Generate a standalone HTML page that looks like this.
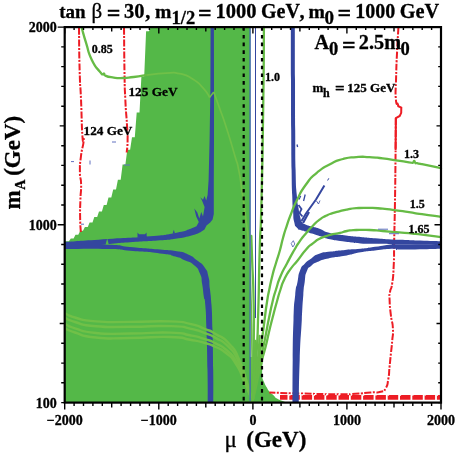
<!DOCTYPE html>
<html><head><meta charset="utf-8"><title>plot</title>
<style>html,body{margin:0;padding:0;background:#fff;}body{width:456px;height:457px;overflow:hidden;font-family:"Liberation Serif",serif;}svg{display:block;will-change:transform;}</style>
</head><body>
<svg width="456" height="457" viewBox="0 0 456 457">
<rect x="0" y="0" width="456" height="457" fill="#fff"/>
<path d="M64.7,402.6 L64.7,241.5 L64.7,241.3 L68.9,241.3 L70.8,238.6 L73.6,238.6 L75.5,234.8 L78.3,234.8 L80.2,230.8 L83.0,230.8 L84.9,226.9 L87.8,226.9 L89.6,222.5 L92.5,222.5 L94.3,217.0 L97.2,217.0 L99.0,211.6 L101.9,211.6 L103.8,205.1 L106.6,205.1 L108.5,197.5 L111.3,197.5 L113.2,189.6 L116.0,189.6 L117.9,179.7 L120.7,179.7 L122.6,164.6 L125.4,164.6 L127.3,149.8 L130.1,149.8 L132.0,137.3 L134.8,137.3 L136.7,112.5 L139.5,112.5 L141.4,76.6 L144.2,76.6 L146.1,31.3 L148.9,31.3 L150.8,27.1 L153.6,27.1 L250,27.1 L250,402.6 Z" fill="#54B848"/>
<path d="M250,357 L263,357 L262.3,366 L262,377  C262.7,378.7 262.5,378.7 264.0,382.0 C265.5,385.3 264.5,383.6 266.5,387.0 C268.5,390.4 267.7,389.6 270.0,392.3 C272.3,395.0 271.2,393.1 273.5,395.2 C275.8,397.3 273.8,396.5 277.0,398.5 C280.2,400.5 279.5,399.8 283.2,401.2 C286.9,402.6 286.4,402.1 288.0,402.6 L250,402.6 Z" fill="#54B848"/>
<path d="M79.0,27.5 C79.2,42.5 79.0,48.8 79.7,72.6 C80.4,96.4 80.1,77.9 81.0,99.0 C81.9,120.1 81.5,122.2 82.4,136.0 C83.3,149.8 84.2,133.8 83.7,140.5 C83.2,147.2 82.3,145.5 81.0,156.0 C79.7,166.5 79.9,162.7 79.9,172.0 C79.9,181.3 80.9,174.7 81.1,184.0 C81.3,193.3 80.7,189.3 80.4,200.0 C80.1,210.7 80.0,205.2 80.1,216.0 C80.2,226.8 80.6,227.0 80.8,232.5" fill="none" stroke="#ED1C24" stroke-width="2" stroke-dasharray="7 1.5 2 1.5"/>
<path d="M124.0,27.5 C124.2,42.5 124.1,48.8 124.5,72.6 C124.9,96.4 124.5,81.5 125.3,99.0 C126.1,116.5 126.2,111.3 127.0,125.0 C127.8,138.7 127.7,130.8 127.6,140.0 C127.5,149.2 127.0,148.3 126.7,152.5" fill="none" stroke="#ED1C24" stroke-width="2" stroke-dasharray="7 1.5 2 1.5"/>
<path d="M398.4,27.6 C398.0,35.5 397.9,34.6 397.1,51.3 C396.3,68.0 396.5,61.9 396.1,77.6 C395.7,93.3 395.2,89.7 395.8,98.5 C396.4,107.3 397.1,102.2 397.8,104.0" fill="none" stroke="#ED1C24" stroke-width="2" stroke-dasharray="7 1.5 2 1.5"/>
<path d="M395.8,118.0 C395.7,132.0 395.8,132.7 395.5,160.0 C395.2,187.3 395.4,173.3 395.0,200.0 C394.6,226.7 394.6,218.1 394.2,240.0 C393.8,261.9 394.4,251.4 393.7,265.8 C393.0,280.2 393.4,274.6 392.2,283.3 C391.0,292.0 390.9,286.4 390.0,292.0 C389.1,297.6 389.3,292.2 389.6,300.0 C389.9,307.8 389.8,306.0 390.9,315.4 C392.0,324.8 392.5,319.7 392.9,328.2 C393.3,336.7 392.9,332.4 392.2,340.9 C391.5,349.4 391.8,345.1 390.9,353.6 C390.0,362.1 390.5,357.8 389.6,366.3 C388.7,374.8 389.6,371.8 388.3,379.0 C387.0,386.2 388.3,383.7 385.8,388.0 C383.3,392.3 385.8,390.3 380.7,391.8 C375.6,393.3 379.0,391.8 370.5,392.5 C362.0,393.2 365.5,393.2 355.3,393.8 C345.1,394.4 358.4,394.4 340.0,394.3 C321.6,394.2 323.6,394.1 300.0,393.5 C276.4,392.9 279.5,392.8 269.3,392.5" fill="none" stroke="#ED1C24" stroke-width="2" stroke-dasharray="7 1.5 2 1.5"/>
<path d="M397.8,104 L398.3,106.2 L401.3,107.6 L401.2,112.8 L399.7,116 L395.9,118 L395.6,150" fill="none" stroke="#ED1C24" stroke-width="2"/>
<path d="M280,397.4 L440,397.4" fill="none" stroke="#ED1C24" stroke-width="4.6" stroke-dasharray="10.5 1.8" stroke-dashoffset="3"/>
<path d="M286,394.9 L440,394.9" fill="none" stroke="#fff" stroke-width="1.6" stroke-dasharray="1.2 11.1" stroke-dashoffset="-3.2"/>
<path d="M64.5,242  C79.0,241.0 79.5,240.9 108.0,239.0 C136.5,237.1 127.5,238.3 150.0,236.3 C172.5,234.3 161.8,235.5 175.4,233.0 C189.0,230.5 185.6,230.2 190.7,228.8 L196.5,226.3 L198.8,222 L196.2,216.5 L194.3,208.5 L197.3,212.5 L199.3,218.5 L201.3,212 L203,216.5 L204.6,207 L202,200.5 L200.3,197.3 L203,199.8 L204.6,196 L206.2,200.5 L207.6,195 L208.6,180 L209.6,140 L210.4,90 L210.6,27 L213.9,27 L214,90 L214,140 L213.8,180 L213.8,214 L212.6,219.5 L210.2,222.5 L206.5,225.5 L204.5,229.5 L200,232.6  C196.9,233.6 198.9,233.7 190.7,235.7 C182.5,237.7 185.6,237.2 175.4,238.7 C165.2,240.2 175.1,239.1 160.0,240.3 C144.9,241.5 147.3,241.0 130.0,242.3 C112.7,243.6 129.8,242.0 108.0,244.2 C86.2,246.4 79.0,247.4 64.5,249.0 Z" fill="#34469F"/>
<path d="M64.5,245.0 C79.0,244.9 86.2,244.1 108.0,244.8 C129.8,245.5 112.7,245.4 130.0,247.0 C147.3,248.6 144.9,248.2 160.0,249.6 C175.1,251.0 166.2,249.6 175.4,251.1 C184.6,252.6 180.4,251.1 187.6,254.2 C194.8,257.3 191.3,255.9 196.9,260.3 C202.5,264.7 200.7,261.9 204.5,267.3 C208.3,272.7 206.6,269.3 208.4,276.5 C210.2,283.7 208.9,279.3 209.9,288.8 C210.9,298.3 210.6,291.3 211.5,305.0 C212.4,318.7 211.9,308.3 212.5,330.0 C213.1,351.7 212.9,345.8 213.2,370.0 C213.5,394.2 213.3,391.7 213.4,402.6 L207.8,402.6 C207.7,391.7 207.9,394.2 207.5,370.0 C207.1,345.8 207.2,351.7 206.5,330.0 C205.8,308.3 206.2,316.2 205.3,305.0 C204.4,293.8 204.8,303.3 203.8,296.4 C202.8,289.5 203.5,291.9 202.2,284.2 C200.9,276.5 202.7,279.8 199.9,273.4 C197.1,267.0 198.9,269.4 193.8,265.0 C188.7,260.6 190.7,263.1 184.6,260.3 C178.5,257.5 183.6,258.8 175.4,256.5 C167.2,254.2 175.1,255.3 160.0,253.4 C144.9,251.5 147.3,252.3 130.0,250.8 C112.7,249.3 129.8,249.6 108.0,249.0 C86.2,248.4 79.0,249.0 64.5,249.0 Z" fill="#34469F"/>
<path d="M105.6,244.6 L107.2,238.6 L108.8,244.4 Z" fill="#54B848"/>
<path d="M137.5,232.6 L139,234.3 L145,234.3 L146.5,232.4 L146.8,237 L137.5,237.5 Z" fill="#34469F"/>
<path d="M172.6,233.8 L173.8,229.8 L175,233.4 Z" fill="#34469F"/>
<path d="M294.8,27.0 C294.9,44.7 294.9,45.7 295.0,80.0 C295.1,114.3 295.0,100.0 295.2,130.0 C295.4,160.0 295.1,148.3 295.6,170.0 C296.1,191.7 295.8,182.3 296.8,195.0 C297.8,207.7 297.4,200.7 298.5,208.0 C299.6,215.3 299.0,212.3 300.2,217.0 C301.4,221.7 300.2,219.5 302.0,222.0 C303.8,224.5 302.2,223.0 305.5,224.5 C308.8,226.0 307.3,225.2 312.0,226.6 C316.7,228.0 313.5,226.7 319.5,228.8 C325.5,230.9 321.2,230.8 330.0,233.0 C338.8,235.2 335.6,234.2 345.8,235.5 C356.0,236.8 351.0,236.1 360.7,237.0 C370.4,237.9 364.8,237.5 375.0,238.3 C385.2,239.1 381.4,239.0 391.4,239.5 C401.4,240.0 395.5,239.6 405.0,239.9 C414.5,240.2 408.0,240.0 420.0,240.5 C432.0,241.0 434.0,241.0 441.0,241.3 L441.0,245.0 C427.2,244.8 416.1,244.6 399.6,244.3 C383.1,244.0 399.6,244.4 391.4,244.2 C383.2,244.0 385.2,244.1 375.0,243.8 C364.8,243.5 370.4,244.1 360.7,243.4 C351.0,242.7 356.0,243.2 345.8,241.8 C335.6,240.4 338.1,241.0 330.0,239.3 C321.9,237.6 327.4,238.5 321.4,236.6 C315.4,234.7 317.3,235.3 312.0,233.6 C306.7,231.9 309.3,232.5 305.6,231.4 C301.9,230.3 303.9,231.4 301.0,230.2 C298.1,229.0 299.3,230.5 297.0,227.8 C294.7,225.1 295.5,227.9 294.2,222.0 C292.9,216.1 293.7,219.0 293.0,210.0 C292.3,201.0 292.7,208.3 292.2,195.0 C291.7,181.7 291.9,191.7 291.6,170.0 C291.3,148.3 291.4,160.0 291.2,130.0 C291.0,100.0 291.1,114.3 291.0,80.0 C290.9,45.7 290.9,44.7 290.8,27.0 Z" fill="#34469F"/>
<path d="M441.0,244.5 C427.2,244.4 416.1,244.3 399.6,244.3 C383.1,244.3 399.6,243.6 391.4,244.4 C383.2,245.2 385.2,245.3 375.0,246.8 C364.8,248.3 370.7,247.8 360.7,248.8 C350.7,249.8 354.9,249.0 345.0,249.9 C335.1,250.8 339.6,250.3 331.0,251.6 C322.4,252.9 325.8,251.5 319.2,253.8 C312.6,256.1 316.1,255.1 311.3,258.4 C306.5,261.7 308.4,259.7 304.7,263.7 C301.0,267.7 302.5,264.2 300.1,270.3 C297.7,276.4 299.1,273.9 297.5,282.1 C295.9,290.3 296.5,282.4 295.2,295.0 C293.9,307.6 294.3,298.3 293.5,320.0 C292.7,341.7 293.0,332.5 292.7,360.0 C292.4,387.5 292.6,388.4 292.5,402.6 L298.8,402.6 C299.1,388.4 298.7,387.5 299.7,360.0 C300.7,332.5 300.6,341.7 301.8,320.0 C303.0,298.3 302.3,307.6 303.3,295.0 C304.3,282.4 303.6,289.9 304.7,282.1 C305.8,274.3 304.5,277.1 306.7,271.6 C308.9,266.1 307.6,269.0 311.3,265.7 C315.0,262.4 312.2,264.1 317.9,261.7 C323.6,259.3 319.4,260.4 328.4,258.4 C337.4,256.4 334.2,257.8 345.0,255.8 C355.8,253.8 350.7,254.1 360.7,252.3 C370.7,250.5 364.8,251.7 375.0,250.5 C385.2,249.3 383.1,249.2 391.4,248.8 C399.7,248.4 392.1,249.2 400.0,249.4 C407.9,249.6 401.3,249.7 415.0,249.5 C428.7,249.3 432.3,249.0 441.0,248.8 Z" fill="#34469F"/>
<path d="M301.5,221 L306,213.5 L311,206.5 L316,199.5 L320.5,192 L324.4,185.5" fill="none" stroke="#34469F" stroke-width="2.0"/>
<path d="M303,223 L309,212" fill="none" stroke="#34469F" stroke-width="2.2"/>
<path d="M298.5,205 L301.5,209 L299.5,213 L302.5,216.5" fill="none" stroke="#34469F" stroke-width="1.8"/>
<path d="M303.6,201 L305.2,194.5" fill="none" stroke="#34469F" stroke-width="1.3"/>
<path d="M299,199.5 L300.7,196" fill="none" stroke="#34469F" stroke-width="1.2"/>
<path d="M316.5,201 L318.5,204 L320,200.5" fill="none" stroke="#34469F" stroke-width="0.8"/>
<path d="M327.6,180.5 L328.8,178.3" fill="none" stroke="#34469F" stroke-width="1"/>
<path d="M297,144.5 L297.6,147" fill="none" stroke="#34469F" stroke-width="1.3"/>
<path d="M291.2,243.5 L293.3,240.7 L294.8,244 L292.8,247 Z" fill="none" stroke="#34469F" stroke-width="0.7"/>
<path d="M144.0,75.3 C151.4,74.6 154.5,73.7 166.3,73.2 C178.1,72.7 170.7,71.8 179.5,73.7 C188.3,75.6 184.7,74.2 192.6,79.0 C200.5,83.8 197.5,82.1 203.2,88.2 C208.9,94.3 207.5,94.3 209.7,97.4" fill="none" stroke="#70C048" stroke-width="1.7"/>
<path d="M213.7,92.0 C215.5,96.9 214.6,94.3 219.0,106.6 C223.4,118.9 221.6,112.8 226.8,129.0 C232.0,145.2 230.7,141.6 234.7,155.3 C238.7,169.0 236.3,158.1 238.7,170.0 C241.1,181.9 239.6,174.3 242.0,191.0 C244.4,207.7 243.7,200.3 246.0,220.0 C248.3,239.7 247.3,223.3 249.0,250.0 C250.7,276.7 250.0,266.7 251.0,300.0 C252.0,333.3 251.5,316.7 252.0,350.0 C252.5,383.3 252.4,383.3 252.6,400.0" fill="none" stroke="#70C048" stroke-width="1.7"/>
<path d="M64.7,313.0 C68.1,314.5 64.6,314.7 75.0,317.5 C85.4,320.3 77.7,319.9 96.0,321.4 C114.3,322.9 105.3,321.9 130.0,321.9 C154.7,321.9 150.0,320.7 170.0,321.4 C190.0,322.1 178.3,321.4 190.0,323.9 C201.7,326.4 196.5,325.6 205.0,329.0 C213.5,332.4 207.5,329.0 215.6,334.0 C223.7,339.0 221.5,335.3 229.4,344.0 C237.3,352.7 233.4,347.0 239.3,360.0 C245.2,373.0 242.7,369.0 247.2,383.0 C251.7,397.0 250.9,395.7 252.7,402.0" fill="none" stroke="#70C048" stroke-width="2.4"/>
<path d="M64.7,317.5 C68.1,319.0 64.6,319.1 75.0,322.0 C85.4,324.9 77.7,324.7 96.0,326.2 C114.3,327.8 105.3,326.8 130.0,326.7 C154.7,326.7 150.0,325.4 170.0,326.1 C190.0,326.7 178.3,326.3 190.0,328.6 C201.7,331.0 196.5,330.1 205.0,333.2 C213.5,336.3 207.8,333.4 215.6,337.9 C223.4,342.4 220.8,338.9 228.4,346.7 C236.0,354.5 232.4,349.3 238.3,361.2 C244.3,373.1 241.4,368.8 246.2,382.4 C251.0,396.0 250.5,395.5 252.7,402.0" fill="none" stroke="#70C048" stroke-width="2.4"/>
<path d="M64.7,323.8 C68.1,325.3 64.6,325.2 75.0,328.3 C85.4,331.4 77.7,331.3 96.0,333.0 C114.3,334.7 105.3,333.6 130.0,333.5 C154.7,333.4 150.0,332.0 170.0,332.6 C190.0,333.2 178.3,333.1 190.0,335.3 C201.7,337.4 196.5,336.4 205.0,339.1 C213.5,341.8 208.3,339.6 215.6,343.4 C222.9,347.2 219.8,344.0 227.0,350.5 C234.1,357.0 230.9,352.5 236.9,362.9 C242.9,373.2 239.6,368.5 244.9,381.6 C250.2,394.6 250.1,395.2 252.7,402.0" fill="none" stroke="#70C048" stroke-width="2.4"/>
<path d="M64.7,328.0 C68.1,329.5 64.6,329.3 75.0,332.5 C85.4,335.7 77.7,335.7 96.0,337.5 C114.3,339.3 105.3,338.2 130.0,338.0 C154.7,337.8 150.0,336.4 170.0,337.0 C190.0,337.6 178.3,337.7 190.0,339.7 C201.7,341.7 196.5,340.6 205.0,343.0 C213.5,345.4 208.6,343.7 215.6,347.0 C222.6,350.3 219.2,347.3 226.0,353.0 C232.8,358.7 230.0,354.7 236.0,364.0 C242.0,373.3 238.4,368.3 244.0,381.0 C249.6,393.7 249.8,395.0 252.7,402.0" fill="none" stroke="#70C048" stroke-width="2.4"/>
<path d="M209.7,97.4 L213.7,92" fill="none" stroke="#70C048" stroke-width="1.5"/>
<path d="M81.6,27.5 C83.2,32.9 83.0,33.0 86.3,43.7 C89.6,54.4 87.2,50.3 91.6,59.5 C96.0,68.7 95.6,66.4 99.5,71.3 C103.4,76.2 101.6,73.4 103.2,74.2 C104.8,75.0 103.5,73.1 104.2,73.6 C104.9,74.1 102.6,74.3 105.4,75.6 C108.2,76.9 106.7,76.6 112.6,77.4 C118.5,78.2 116.0,78.1 123.0,78.0 C130.0,77.9 126.0,77.9 133.7,77.0 C141.4,76.1 141.9,75.8 146.0,75.2" fill="none" stroke="#66BB45" stroke-width="2.3" stroke-linejoin="round" stroke-linecap="round"/>
<path d="M441.0,168.2 C434.7,166.9 430.0,165.9 422.0,164.2 C414.0,162.5 419.2,163.6 417.0,163.2 C414.8,162.8 416.2,163.7 415.3,162.9 C414.4,162.1 415.0,161.0 414.2,160.9 C413.4,160.8 414.7,162.1 413.0,162.6 C411.3,163.1 414.7,163.1 409.0,162.3 C403.3,161.5 404.6,161.6 395.8,160.3 C387.0,159.0 391.4,159.5 382.6,158.4 C373.8,157.3 378.3,157.5 369.5,157.1 C360.7,156.7 365.1,156.5 356.3,157.1 C347.5,157.7 351.8,156.6 343.0,159.0 C334.2,161.4 338.7,159.6 330.0,164.2 C321.3,168.8 324.9,165.9 316.8,172.8 C308.7,179.7 312.4,175.7 305.8,184.8 C299.2,193.9 301.9,190.3 297.0,200.0 C292.1,209.7 294.5,205.2 291.0,214.0 C287.5,222.8 289.3,218.3 286.6,226.3 C283.9,234.3 285.2,230.1 283.0,238.0 C280.8,245.9 282.3,241.7 280.0,250.0 C277.7,258.3 278.6,254.3 276.0,263.0 C273.4,271.7 274.5,267.2 272.3,276.0 C270.1,284.8 271.1,280.8 269.3,289.5 C267.5,298.2 268.5,292.5 267.0,302.0 C265.5,311.5 266.1,308.0 264.8,318.0 C263.5,328.0 264.3,322.7 263.0,332.0 C261.7,341.3 262.5,336.0 261.0,346.0 C259.5,356.0 260.3,350.0 258.5,362.0 C256.7,374.0 257.5,368.8 255.5,382.0 C253.5,395.2 253.6,395.0 252.6,401.5" fill="none" stroke="#66BB45" stroke-width="2.3" stroke-linejoin="round" stroke-linecap="round"/>
<path d="M441.0,216.8 C434.7,215.9 432.7,215.8 422.0,214.2 C411.3,212.6 417.7,213.4 409.0,212.1 C400.3,210.8 404.6,211.4 395.8,210.3 C387.0,209.2 391.4,209.5 382.6,208.7 C373.8,207.9 378.3,208.1 369.5,207.9 C360.7,207.7 363.8,207.6 356.3,208.2 C348.8,208.8 352.4,208.6 347.0,209.6 C341.6,210.6 344.8,210.0 340.0,211.2 C335.2,212.4 337.3,211.7 332.6,213.2 C327.9,214.7 330.4,213.6 326.0,215.8 C321.6,218.0 323.9,216.4 319.5,219.7 C315.1,223.0 317.3,221.3 312.9,225.7 C308.5,230.1 310.7,227.7 306.3,232.9 C301.9,238.1 303.7,235.7 299.7,241.4 C295.7,247.1 298.5,242.7 294.3,250.0 C290.1,257.3 291.7,254.4 287.1,263.2 C282.5,272.0 284.2,267.5 280.5,276.3 C276.8,285.1 278.7,280.9 276.0,289.5 C273.3,298.1 274.8,292.5 272.5,302.0 C270.2,311.5 271.1,308.0 269.0,318.0 C266.9,328.0 268.1,322.7 266.3,332.0 C264.5,341.3 265.6,336.0 263.5,346.0 C261.4,356.0 262.4,350.0 260.0,362.0 C257.6,374.0 258.7,368.8 256.2,382.0 C253.7,395.2 253.8,395.0 252.6,401.5" fill="none" stroke="#66BB45" stroke-width="2.3" stroke-linejoin="round" stroke-linecap="round"/>
<path d="M441.0,237.1 C434.7,236.3 432.7,236.0 422.0,234.7 C411.3,233.4 417.7,234.1 409.0,233.2 C400.3,232.3 404.6,232.8 395.8,232.1 C387.0,231.4 391.4,231.7 382.6,231.0 C373.8,230.3 378.3,230.3 369.5,230.0 C360.7,229.7 363.8,229.7 356.3,230.0 C348.8,230.3 352.4,230.0 347.0,231.0 C341.6,232.0 344.8,231.8 340.0,232.9 C335.2,234.0 337.3,233.1 332.6,234.2 C327.9,235.3 330.4,234.7 326.0,236.2 C321.6,237.7 323.9,236.4 319.5,238.8 C315.1,241.2 317.3,239.9 312.9,243.4 C308.5,246.9 311.4,243.6 306.3,249.3 C301.2,255.0 302.7,254.1 297.6,260.5 C292.5,266.9 295.4,262.3 291.0,268.4 C286.6,274.5 288.0,271.9 284.5,278.9 C281.0,285.9 283.1,281.8 280.5,289.5 C277.9,297.2 279.5,292.5 276.8,302.0 C274.1,311.5 275.1,308.0 272.5,318.0 C269.9,328.0 271.2,322.7 269.0,332.0 C266.8,341.3 268.1,336.7 265.8,346.0 C263.5,355.3 264.4,350.3 262.0,360.0 C259.6,369.7 260.7,365.0 258.5,375.0 C256.3,385.0 257.3,381.2 255.3,390.0 C253.3,398.8 253.5,397.7 252.6,401.5" fill="none" stroke="#66BB45" stroke-width="2.3" stroke-linejoin="round" stroke-linecap="round"/>
<path d="M263.9,27.0 C263.7,51.3 264.1,42.3 263.3,100.0 C262.5,157.7 262.7,150.0 261.5,200.0 C260.3,250.0 260.8,213.3 259.7,250.0 C258.6,286.7 259.3,276.7 258.3,310.0 C257.3,343.3 258.1,325.0 256.8,350.0 C255.5,375.0 255.9,367.8 254.5,385.0 C253.1,402.2 253.2,396.0 252.6,401.5" fill="none" stroke="#66BB45" stroke-width="2.3" stroke-linejoin="round" stroke-linecap="round"/>
<path d="M251.3,236.0 C251.6,244.7 251.4,240.7 252.2,262.0 C253.0,283.3 253.1,274.0 253.6,300.0 C254.1,326.0 254.1,306.2 253.8,340.0 C253.5,373.8 253.0,381.0 252.6,401.5" fill="none" stroke="#66BB45" stroke-width="2.3" stroke-linejoin="round" stroke-linecap="round"/>
<path d="M255.4,341.0 C255.2,346.3 255.5,342.3 254.9,357.0 C254.3,371.7 254.4,370.2 253.6,385.0 C252.8,399.8 252.9,396.0 252.6,401.5" fill="none" stroke="#66BB45" stroke-width="2.3" stroke-linejoin="round" stroke-linecap="round"/>
<path d="M259.6,336.0 C259.1,343.0 259.7,340.7 258.2,357.0 C256.7,373.3 256.9,370.2 255.0,385.0 C253.1,399.8 253.4,396.0 252.6,401.5" fill="none" stroke="#66BB45" stroke-width="2.3" stroke-linejoin="round" stroke-linecap="round"/>
<line x1="250.1" y1="27" x2="250.1" y2="401" stroke="#4470A8" stroke-width="1.5"/>
<line x1="255.5" y1="27" x2="255.5" y2="318" stroke="#34469F" stroke-width="1"/>
<line x1="243.7" y1="28" x2="243.7" y2="402.0" stroke="#000" stroke-width="2.2" stroke-dasharray="3.6 4.1" stroke-dashoffset="0.8"/>
<line x1="262.0" y1="28" x2="262.0" y2="402.0" stroke="#000" stroke-width="2.2" stroke-dasharray="3.6 4.1" stroke-dashoffset="0.8"/>
<path d="M112,142 h4" stroke="#6070C0" stroke-width="1" fill="none"/>
<path d="M71,161.6 h3" stroke="#6070C0" stroke-width="1" fill="none"/>
<path d="M90,160.5 v4" stroke="#6070C0" stroke-width="1" fill="none"/>
<path d="M124,165 h6" stroke="#6070C0" stroke-width="1" fill="none"/>
<path d="M81,224.2 h3" stroke="#6070C0" stroke-width="1" fill="none"/>
<path d="M378,229.2 h10" stroke="#6070C0" stroke-width="1" fill="none"/>
<path d="M389,233.7 h10" stroke="#6070C0" stroke-width="1" fill="none"/>
<rect x="64.7" y="27.1" width="376.3" height="375.5" fill="none" stroke="#000" stroke-width="2.2"/>
<path d="M64.7,402.6 v7.0 M64.7,27.1 v6.5 M74.1,402.6 v3.5 M74.1,27.1 v2.8 M83.5,402.6 v3.5 M83.5,27.1 v2.8 M92.9,402.6 v3.5 M92.9,27.1 v2.8 M102.3,402.6 v3.5 M102.3,27.1 v2.8 M111.7,402.6 v5.0 M111.7,27.1 v4.5 M121.1,402.6 v3.5 M121.1,27.1 v2.8 M130.6,402.6 v3.5 M130.6,27.1 v2.8 M140.0,402.6 v3.5 M140.0,27.1 v2.8 M149.4,402.6 v3.5 M149.4,27.1 v2.8 M158.8,402.6 v7.0 M158.8,27.1 v6.5 M168.2,402.6 v3.5 M168.2,27.1 v2.8 M177.6,402.6 v3.5 M177.6,27.1 v2.8 M187.0,402.6 v3.5 M187.0,27.1 v2.8 M196.4,402.6 v3.5 M196.4,27.1 v2.8 M205.8,402.6 v5.0 M205.8,27.1 v4.5 M215.2,402.6 v3.5 M215.2,27.1 v2.8 M224.6,402.6 v3.5 M224.6,27.1 v2.8 M234.0,402.6 v3.5 M234.0,27.1 v2.8 M243.4,402.6 v3.5 M243.4,27.1 v2.8 M252.9,402.6 v7.0 M252.9,27.1 v6.5 M262.3,402.6 v3.5 M262.3,27.1 v2.8 M271.7,402.6 v3.5 M271.7,27.1 v2.8 M281.1,402.6 v3.5 M281.1,27.1 v2.8 M290.5,402.6 v3.5 M290.5,27.1 v2.8 M299.9,402.6 v5.0 M299.9,27.1 v4.5 M309.3,402.6 v3.5 M309.3,27.1 v2.8 M318.7,402.6 v3.5 M318.7,27.1 v2.8 M328.1,402.6 v3.5 M328.1,27.1 v2.8 M337.5,402.6 v3.5 M337.5,27.1 v2.8 M346.9,402.6 v7.0 M346.9,27.1 v6.5 M356.3,402.6 v3.5 M356.3,27.1 v2.8 M365.7,402.6 v3.5 M365.7,27.1 v2.8 M375.1,402.6 v3.5 M375.1,27.1 v2.8 M384.6,402.6 v3.5 M384.6,27.1 v2.8 M394.0,402.6 v5.0 M394.0,27.1 v4.5 M403.4,402.6 v3.5 M403.4,27.1 v2.8 M412.8,402.6 v3.5 M412.8,27.1 v2.8 M422.2,402.6 v3.5 M422.2,27.1 v2.8 M431.6,402.6 v3.5 M431.6,27.1 v2.8 M441.0,402.6 v7.0 M441.0,27.1 v6.5 M64.7,402.6 h-3.5 M441.0,402.6 h-2.8 M64.7,382.8 h-3.5 M441.0,382.8 h-2.8 M64.7,363.1 h-3.5 M441.0,363.1 h-2.8 M64.7,343.3 h-3.5 M441.0,343.3 h-2.8 M64.7,323.5 h-5.0 M441.0,323.5 h-4.5 M64.7,303.8 h-3.5 M441.0,303.8 h-2.8 M64.7,284.0 h-3.5 M441.0,284.0 h-2.8 M64.7,264.3 h-3.5 M441.0,264.3 h-2.8 M64.7,244.5 h-3.5 M441.0,244.5 h-2.8 M64.7,224.7 h-7.0 M441.0,224.7 h-6.5 M64.7,205.0 h-3.5 M441.0,205.0 h-2.8 M64.7,185.2 h-3.5 M441.0,185.2 h-2.8 M64.7,165.4 h-3.5 M441.0,165.4 h-2.8 M64.7,145.7 h-3.5 M441.0,145.7 h-2.8 M64.7,125.9 h-5.0 M441.0,125.9 h-4.5 M64.7,106.2 h-3.5 M441.0,106.2 h-2.8 M64.7,86.4 h-3.5 M441.0,86.4 h-2.8 M64.7,66.6 h-3.5 M441.0,66.6 h-2.8 M64.7,46.9 h-3.5 M441.0,46.9 h-2.8 M64.7,27.1 h-7.0 M441.0,27.1 h-6.5" stroke="#000" stroke-width="1.4" fill="none"/>
<g font-family="'Liberation Serif', serif" font-weight="bold" fill="#000" stroke="#000" stroke-width="0.3">
<text x="59.3" y="17.8" font-size="19" text-anchor="start" >tan</text>
<text x="91.4" y="17.8" font-size="21" text-anchor="start" font-weight="normal">&#946;</text>
<text x="106.7" y="20.5" font-size="24" text-anchor="start" >=</text>
<text x="124.0" y="17.8" font-size="20.5" text-anchor="start" >30</text>
<text x="145.2" y="17.8" font-size="20.5" text-anchor="start" >,</text>
<text x="155.0" y="17.8" font-size="19.7" text-anchor="start" >m</text>
<text x="171.5" y="23.8" font-size="18.5" text-anchor="start" >1/2</text>
<text x="198.1" y="20.5" font-size="24" text-anchor="start" >=</text>
<text x="215.6" y="17.8" font-size="20.5" text-anchor="start" >1000</text>
<text x="261.0" y="17.8" font-size="20" text-anchor="start" >GeV</text>
<text x="299.6" y="17.8" font-size="20.5" text-anchor="start" >,</text>
<text x="308.4" y="17.8" font-size="19.7" text-anchor="start" >m</text>
<text x="324.6" y="23.8" font-size="19" text-anchor="start" >0</text>
<text x="337.4" y="20.5" font-size="24" text-anchor="start" >=</text>
<text x="355.2" y="17.8" font-size="20" text-anchor="start" >1000</text>
<text x="399.7" y="17.8" font-size="20.3" text-anchor="start" >GeV</text>
<text x="314.6" y="49.2" font-size="20.3" text-anchor="start" >A</text>
<text x="328.9" y="55.0" font-size="18.5" text-anchor="start" >0</text>
<text x="342.0" y="52.6" font-size="24" text-anchor="start" >=</text>
<text x="358.8" y="49.2" font-size="20.3" text-anchor="start" >2.5m</text>
<text x="400.6" y="55.0" font-size="18.5" text-anchor="start" >0</text>
<text x="312.4" y="91.9" font-size="13" text-anchor="start" >m</text>
<text x="323.0" y="97.4" font-size="12" text-anchor="start" >h</text>
<text x="335.0" y="94.3" font-size="17" text-anchor="start" >=</text>
<text x="347.3" y="91.9" font-size="13" text-anchor="start" >125 GeV</text>
<text x="91.8" y="52.8" font-size="12" text-anchor="start" >0.85</text>
<text x="265.0" y="80.5" font-size="12" text-anchor="start" >1.0</text>
<text x="404.0" y="157.6" font-size="12" text-anchor="start" >1.3</text>
<text x="409.8" y="208.2" font-size="12" text-anchor="start" >1.5</text>
<text x="408.6" y="232.6" font-size="12" text-anchor="start" >1.65</text>
<text x="128.4" y="95.8" font-size="13.3" text-anchor="start" >125 GeV</text>
<text x="83.6" y="134.5" font-size="13.2" text-anchor="start" >124 GeV</text>
<text x="64.7" y="425.4" font-size="14" text-anchor="middle" >&#8722;2000</text>
<text x="158.8" y="425.4" font-size="14" text-anchor="middle" >&#8722;1000</text>
<text x="252.9" y="425.4" font-size="14" text-anchor="middle" >0</text>
<text x="346.9" y="425.4" font-size="14" text-anchor="middle" >1000</text>
<text x="441.0" y="425.4" font-size="14" text-anchor="middle" >2000</text>
<text x="56.8" y="32.3" font-size="14" text-anchor="end" >2000</text>
<text x="56.8" y="229.7" font-size="14" text-anchor="end" >1000</text>
<text x="56.8" y="408.3" font-size="14" text-anchor="end" >100</text>
<text x="224.5" y="447.0" font-size="23" text-anchor="start" font-weight="normal">&#956;</text>
<text x="246.3" y="447.1" font-size="23" text-anchor="start" >(GeV)</text>
<g transform="translate(19.7,209.4) rotate(-90)">
<text x="0.0" y="0.0" font-size="23" text-anchor="start" >m</text>
<text x="19.6" y="5.7" font-size="14" text-anchor="start" >A</text>
<text x="33.6" y="0.0" font-size="23" text-anchor="start" >(GeV)</text>
</g>
</g>
</svg>
</body></html>
